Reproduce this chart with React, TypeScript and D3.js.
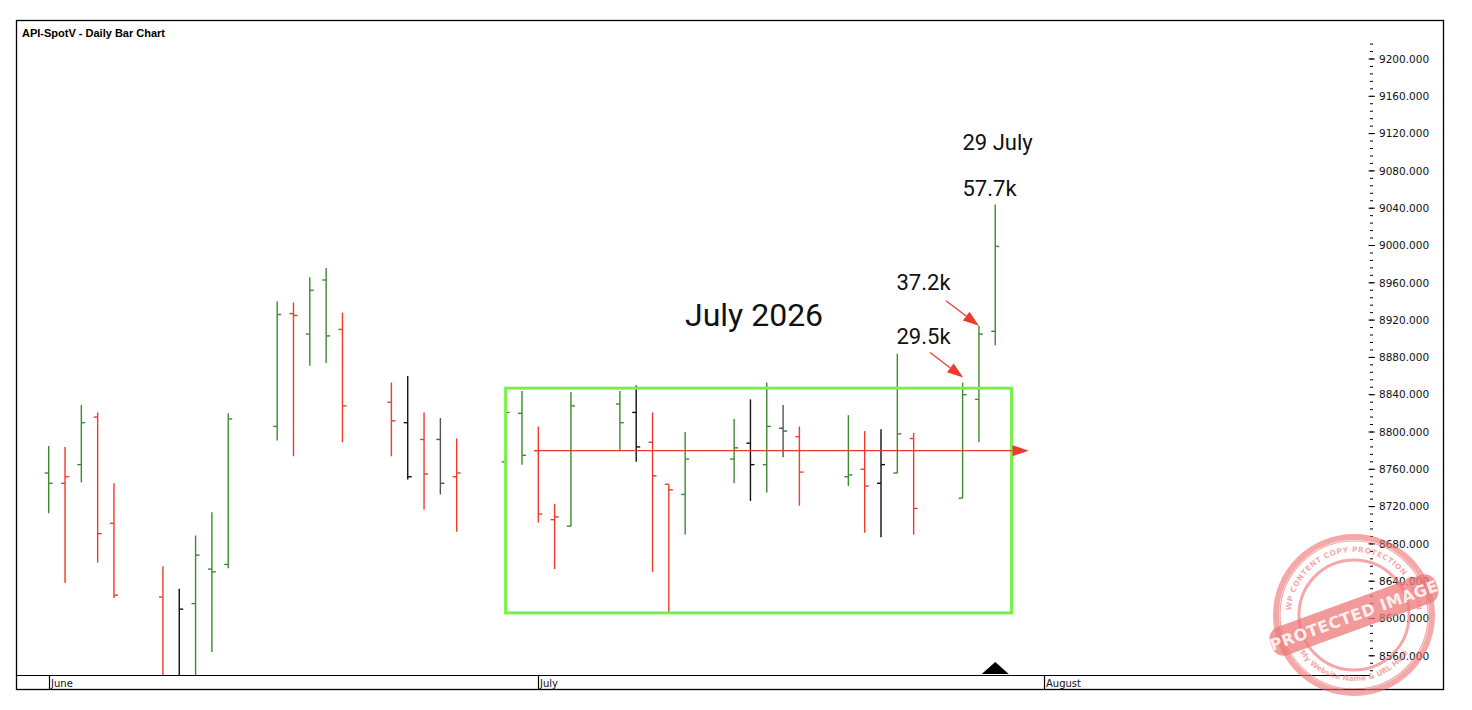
import React from "react";
import * as d3 from "d3";

const dates = [
  "2026-06-01","2026-06-02","2026-06-03","2026-06-04","2026-06-05",
  "2026-06-08","2026-06-09","2026-06-10","2026-06-11","2026-06-12",
  "2026-06-15","2026-06-16","2026-06-17","2026-06-18","2026-06-19",
  "2026-06-22","2026-06-23","2026-06-24","2026-06-25","2026-06-26",
  "2026-06-29","2026-06-30","2026-07-01","2026-07-02","2026-07-03",
  "2026-07-06","2026-07-07","2026-07-08","2026-07-09","2026-07-10",
  "2026-07-13","2026-07-14","2026-07-15","2026-07-16","2026-07-17",
  "2026-07-20","2026-07-21","2026-07-22","2026-07-23","2026-07-24",
  "2026-07-27","2026-07-28","2026-07-29",
];
const opens = [8756,8745,8765,8816,8702,8623,8535,8616,8653,8658,8806,8927,8905,8963,8910,8832,8810,8792,8792,8752,8768,8820,8780,8706,8699,8830,8821,8789,8744,8733,8771,8788,8765,8804,8795,8752,8760,8745,8756,8793,8729,8835,8908];
const highs = [8785,8784,8829,8821,8745,8656,8632,8689,8714,8820,8940,8939,8966,8976,8928,8853,8860,8821,8815,8793,8828,8844,8806,8723,8843,8844,8850,8821,8744,8800,8814,8835,8853,8829,8806,8818,8801,8803,8884,8799,8853,8914,9044];
const lows = [8713,8638,8746,8660,8622,8520,8520,8530,8564,8654,8791,8774,8871,8874,8789,8774,8749,8717,8733,8693,8727,8765,8703,8653,8699,8780,8768,8650,8606,8690,8745,8726,8735,8773,8721,8742,8692,8687,8756,8690,8729,8789,8893];
const closes = [8745,8752,8810,8691,8625,8530,8610,8668,8650,8814,8926,8925,8952,8903,8828,8812,8752,8755,8745,8756,8821,8775,8712,8709,8828,8810,8784,8753,8738,8771,8783,8765,8806,8801,8757,8754,8742,8765,8798,8718,8840,8905,8999];
const barColors = ["g","r","g","r","r","r","k","g","g","g","g","r","g","g","r","r","k","r","s","r","g","g","r","r","g","g","k","r","r","g","g","k","g","s","r","g","r","k","g","r","g","g","g"];

const monthLabels = ["June", "July", "August"];
const monthStarts = ["2026-06-01", "2026-07-01", "2026-08-01"];
const yTickValues = [8560,8600,8640,8680,8720,8760,8800,8840,8880,8920,8960,9000,9040,9080,9120,9160,9200];

// annotations
const boxStart = "2026-06-29";
const boxEnd = "2026-07-30";
const boxTop = 8847;
const boxBottom = 8606;
const levelStart = "2026-07-01";
const levelValue = 8780;

const COLORS: Record<string, string> = { g: "#3d8b2f", r: "#f23a2c", k: "#111111", s: "#555555" };

const W = 1472, H = 710;
const plotTop = 20, plotBottom = 675, plotRight = 1370;

const parse = (s: string) => new Date(s + "T00:00:00Z");

export default function App() {
  const x = d3.scaleUtc()
    .domain([parse("2026-06-01"), parse("2026-08-01")])
    .range([48.7, 1044.2]);
  const y = d3.scaleLinear().domain([8560, 9200]).range([655.8, 59]);

  const bars = dates.map((d, i) => ({
    x: x(parse(d)), o: opens[i], h: highs[i], l: lows[i], c: closes[i], col: COLORS[barColors[i]],
  }));

  const minorTicks = d3.range(8544, 9217, 8);

  const bx0 = x(parse(boxStart)), bx1 = x(parse(boxEnd));
  const lx0 = x(parse(levelStart));
  const ly = y(levelValue);

  const last = bars[bars.length - 1];
  const b41 = bars[40], b42 = bars[41];

  const arrow = (tx: number, ty: number, key: string) => {
    const sx = tx - 33, sy = ty - 25;
    const ang = Math.atan2(ty - sy, tx - sx);
    const len = 16, hw = 5.5;
    const bxp = tx - len * Math.cos(ang), byp = ty - len * Math.sin(ang);
    const px = -Math.sin(ang) * hw, py = Math.cos(ang) * hw;
    return (
      <g key={key}>
        <line x1={sx} y1={sy} x2={bxp} y2={byp} stroke="#ee3a2c" strokeWidth={1.2} />
        <polygon points={`${tx},${ty} ${bxp + px},${byp + py} ${bxp - px},${byp - py}`} fill="#ee3a2c" />
      </g>
    );
  };

  const stampCx = 1354, stampCy = 615;
  const wm = "rgba(236,110,110,0.6)";

  return (
    <svg width={W} height={H} style={{ position: "absolute", left: 0, top: 0, background: "#fff" }}
      fontFamily="'DejaVu Sans', Verdana, sans-serif">
      <defs>
        <clipPath id="plotClip">
          <rect x={16} y={plotTop} width={plotRight - 16} height={plotBottom - plotTop} />
        </clipPath>
        <path id="ringTop" d={`M ${stampCx - 63},${stampCy} A 63 63 0 0 1 ${stampCx + 63},${stampCy}`} />
        <path id="ringBot" d={`M ${stampCx - 66},${stampCy} A 66 66 0 0 0 ${stampCx + 66},${stampCy}`} />
      </defs>
      <rect x={0} y={0} width={W} height={H} fill="#fff" />
      <rect x={16.5} y={20.5} width={1427} height={669} fill="none" stroke="#000" strokeWidth={1.3} />
      <text x={22} y={37} fontSize={11} fontWeight="bold" fontFamily="'Liberation Sans', Arial, sans-serif">API-SpotV - Daily Bar Chart</text>

      {/* bottom date band */}
      <line x1={16} x2={plotRight} y1={plotBottom + 0.5} y2={plotBottom + 0.5} stroke="#000" strokeWidth={1.2} />
      {monthStarts.map((m, i) => {
        const mx = Math.round(x(parse(m))) + 0.5;
        return (
          <g key={m}>
            <line x1={mx} x2={mx} y1={plotBottom} y2={689} stroke="#000" strokeWidth={1.2} />
            <text x={mx + 1.5} y={686.5} fontSize={10} fill="#111">{monthLabels[i]}</text>
          </g>
        );
      })}

      {/* y axis */}
      {minorTicks.map((v) => (
        <line key={v} x1={1370} x2={1373} y1={y(v)} y2={y(v)} stroke="#000" strokeWidth={1} />
      ))}
      {yTickValues.map((v) => (
        <g key={v}>
          <line x1={1368.5} x2={1375} y1={y(v)} y2={y(v)} stroke="#000" strokeWidth={1} />
          <text x={1379} y={y(v)} dy="0.36em" fontSize={10.5} fill="#111">{d3.format(".3f")(v)}</text>
        </g>
      ))}

      {/* bars */}
      <g clipPath="url(#plotClip)">
        {bars.map((b, i) => (
          <g key={i} stroke={b.col} strokeWidth={1.4}>
            <line x1={b.x} x2={b.x} y1={y(b.h)} y2={y(b.l)} />
            <line x1={b.x - 4} x2={b.x} y1={y(b.o)} y2={y(b.o)} />
            <line x1={b.x} x2={b.x + 4} y1={y(b.c)} y2={y(b.c)} />
          </g>
        ))}
      </g>

      {/* green consolidation box */}
      <rect x={bx0} y={y(boxTop)} width={bx1 - bx0} height={y(boxBottom) - y(boxTop)}
        fill="none" stroke="#78f048" strokeWidth={3} />

      {/* horizontal level with arrow */}
      <line x1={lx0 - 4} x2={bx1 + 1} y1={ly} y2={ly} stroke="#ee3a2c" strokeWidth={1.2} />
      <polygon points={`${bx1 + 1},${ly - 5.5} ${bx1 + 17},${ly} ${bx1 + 1},${ly + 5.5}`} fill="#ee3a2c" />

      {/* annotation arrows */}
      {arrow(b42.x, y(b42.h), "a1")}
      {arrow(b41.x + 0.5, y(b41.h) - 5, "a2")}

      {/* annotation text */}
      <g fontFamily="Roboto, 'Noto Sans', sans-serif" fill="#111">
        <text x={685} y={326} fontSize={32}>July 2026</text>
        <text x={962.5} y={150} fontSize={22}>29 July</text>
        <text x={962.5} y={196} fontSize={22}>57.7k</text>
        <text x={896.5} y={290} fontSize={22}>37.2k</text>
        <text x={896.5} y={344} fontSize={22}>29.5k</text>
      </g>

      {/* current bar marker */}
      <polygon points={`${last.x},${662} ${last.x + 13.5},${674} ${last.x - 13.5},${674}`} fill="#000" />

      {/* watermark stamp */}
      <g>
        <circle cx={stampCx} cy={stampCy} r={78} fill="none" stroke={wm} strokeWidth={6} />
        <circle cx={stampCx} cy={stampCy} r={74} fill="none" stroke={wm} strokeWidth={1.2} />
        <circle cx={stampCx} cy={stampCy} r={55} fill="none" stroke={wm} strokeWidth={3} />
        <text fontSize={7.5} fontWeight="bold" fill={wm} letterSpacing={0.5}>
          <textPath href="#ringTop" startOffset="50%" textAnchor="middle">WP CONTENT COPY PROTECTION PLUGIN</textPath>
        </text>
        <text fontSize={7.5} fontWeight="bold" fill={wm}>
          <textPath href="#ringBot" startOffset="50%" textAnchor="middle">My Website Name &amp; URL Here</textPath>
        </text>
        <g transform={`translate(${stampCx},${stampCy}) rotate(-20)`}>
          <rect x={-88} y={-15} width={176} height={30} rx={12} fill="rgba(238,120,120,0.75)" />
          <text x={0} y={6} textAnchor="middle" fontSize={16} fontWeight="bold" fill="rgba(255,255,255,0.85)" letterSpacing={0.5}>PROTECTED IMAGE</text>
        </g>
      </g>
    </svg>
  );
}
